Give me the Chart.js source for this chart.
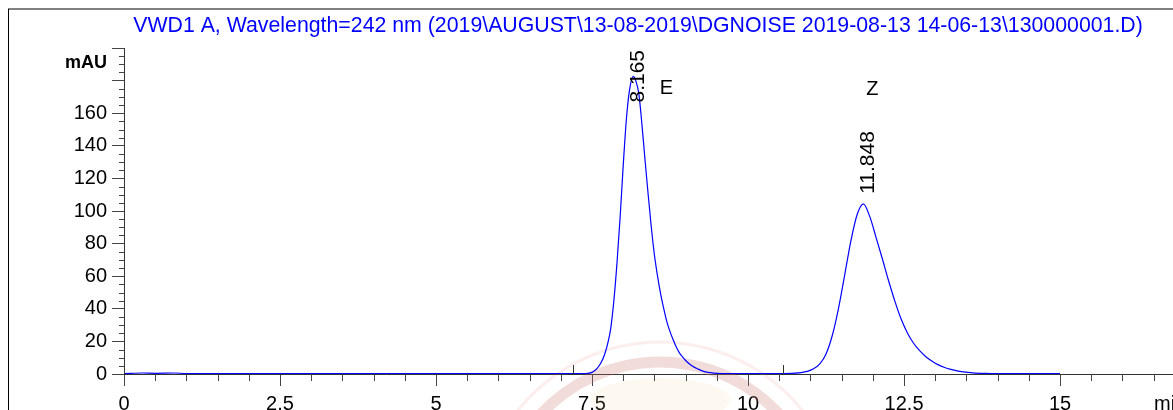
<!DOCTYPE html>
<html lang="en">
  <head>
    <meta charset="UTF-8" />
    <title>VWD1 A chromatogram</title>
    <style>
      body { margin: 0; background: #fff; }
      canvas { display: block; }
    </style>
  </head>

  <body>
    <script src="https://cdn.jsdelivr.net/npm/chart.js"></script>
    <canvas id="chrom" width="1173" height="410"></canvas>

    <script>
      // signal (min, mAU)
      const times = [0, 0.3, 0.5, 0.8, 1, 3, 5, 7, 7.2, 7.4, 7.5, 7.55, 7.6, 7.65, 7.7, 7.75, 7.8, 7.85, 7.9, 7.95,
        8.0, 8.05, 8.1, 8.16, 8.2, 8.25, 8.3, 8.35, 8.4, 8.45, 8.5, 8.55, 8.6, 8.65, 8.7, 8.75, 8.8, 8.85, 8.9,
        8.95, 9.0, 9.1, 9.2, 9.3, 9.4, 9.5, 9.7, 10.2, 10.56, 10.85, 10.95, 11.05, 11.15, 11.25, 11.35, 11.45,
        11.55, 11.65, 11.75, 11.848, 11.95, 12.05, 12.15, 12.25, 12.35, 12.45, 12.55, 12.65, 12.75, 12.85,
        12.95, 13.05, 13.15, 13.25, 13.35, 13.45, 13.6, 13.8, 14.0, 14.5, 15]
      const mAU = [0.3, 0.6, 0.4, 0.6, 0.3, 0.2, 0.2, 0.2, 0.2, 0.3, 1.0, 2.3, 4.3, 7.3, 11.8, 18.5, 28, 45, 68, 96,
        128, 156, 174, 182.6, 180, 172, 153, 131, 110, 90, 73, 60, 49, 40, 32, 26, 21, 16.5, 13,
        10.5, 8.3, 5, 3, 1.5, 0.8, 0.4, 0.2, 0.2, 0.2, 0.9, 1.6, 3.2, 6.2, 12.3, 23.6, 40.3,
        61, 82, 98, 104.4, 96.7, 84, 71, 57.5, 45, 34, 25.5, 19, 14.3, 10.6,
        7.8, 5.6, 4.0, 2.8, 1.9, 1.3, 0.7, 0.35, 0.2, 0.2, 0.2]

      const peakTimes = [8.165, 11.848]
      const peakHeights = [182.6, 104.4]
      const peakNames = ['E', 'Z']
      const baselineMarks = [0, 7.2, 10.56]

      const xMajor = [0, 2.5, 5, 7.5, 10, 12.5, 15]
      const yLabels = [0, 20, 40, 60, 80, 100, 120, 140, 160]

      const title = 'VWD1 A, Wavelength=242 nm (2019\\AUGUST\\13-08-2019\\DGNOISE 2019-08-13 14-06-13\\130000001.D)'
      const FONT = '"Liberation Sans", Arial, sans-serif'

      const extras = {
        id: 'extras',
        beforeDatasetsDraw(chart) {
          const c = chart.ctx
          // faint watermark ring
          c.save()
          c.strokeStyle = 'rgba(205, 120, 110, 0.26)'
          c.lineWidth = 11
          c.beginPath()
          c.arc(660, 524, 162, Math.PI * 1.05, Math.PI * 1.95)
          c.stroke()
          c.strokeStyle = 'rgba(230, 150, 140, 0.16)'
          c.lineWidth = 3
          c.beginPath()
          c.arc(660, 524, 182, Math.PI * 1.08, Math.PI * 1.92)
          c.stroke()
          c.fillStyle = 'rgba(240, 215, 150, 0.14)'
          c.beginPath()
          c.ellipse(660, 400, 70, 22, 0, 0, Math.PI * 2)
          c.fill()
          c.restore()
        },
        afterDraw(chart) {
          const c = chart.ctx
          const xs = chart.scales.x
          const ys = chart.scales.y
          const x0 = xs.left
          const y0 = ys.bottom
          c.save()

          // frame
          c.strokeStyle = '#808080'
          c.lineWidth = 2
          c.beginPath()
          c.moveTo(8, 9)
          c.lineTo(1173, 9)
          c.stroke()
          c.strokeStyle = '#000'
          c.lineWidth = 1
          c.beginPath()
          c.moveTo(8.5, 9)
          c.lineTo(8.5, 410)
          c.stroke()

          // minor ticks
          c.strokeStyle = '#444'
          c.beginPath()
          for (let v = 5; v < 200; v += 5) {
            if (v % 20 === 0) continue
            const py = Math.round(ys.getPixelForValue(v)) + 0.5
            c.moveTo(x0 - 5, py)
            c.lineTo(x0, py)
          }
          for (let t = 0.5; t <= xs.max; t += 0.5) {
            if (Math.abs(t / 2.5 - Math.round(t / 2.5)) < 1e-6) continue
            const px = Math.round(xs.getPixelForValue(t)) + 0.5
            c.moveTo(px, y0)
            c.lineTo(px, y0 + 7)
          }
          c.stroke()

          // baseline event marks
          c.strokeStyle = '#333'
          c.beginPath()
          baselineMarks.forEach((t) => {
            const px = Math.round(xs.getPixelForValue(t)) + 0.5
            c.moveTo(px, y0)
            c.lineTo(px, y0 - 9)
          })
          c.stroke()

          // title
          c.fillStyle = '#0000ff'
          c.font = '21.3px ' + FONT
          c.textAlign = 'center'
          c.textBaseline = 'middle'
          c.fillText(title, 638, 26)

          // axis unit labels
          c.fillStyle = '#000'
          c.font = 'bold 18px ' + FONT
          c.textAlign = 'right'
          c.fillText('mAU', 107, 63)
          c.font = '20px ' + FONT
          c.textAlign = 'left'
          c.fillText('min', 1154, 404)

          // retention times and names
          c.font = '21px ' + FONT
          peakTimes.forEach((t, i) => {
            const px = xs.getPixelForValue(t)
            const py = ys.getPixelForValue(peakHeights[i])
            const txt = t.toFixed(3)
            const len = c.measureText(txt).width
            const bottom = Math.max(py - 10, ys.top + 2 + len)
            c.save()
            c.translate(px + 5, bottom)
            c.rotate(-Math.PI / 2)
            c.textAlign = 'left'
            c.textBaseline = 'middle'
            c.fillText(txt, 0, 0)
            c.restore()
          })
          c.font = '20px ' + FONT
          c.textAlign = 'center'
          c.textBaseline = 'middle'
          c.fillText(peakNames[0], xs.getPixelForValue(peakTimes[0]) + 33, 88)
          c.fillText(peakNames[1], xs.getPixelForValue(peakTimes[1]) + 9, 89)

          c.restore()
        },
      }

      new Chart(document.getElementById('chrom'), {
        type: 'line',
        data: {
          datasets: [
            {
              data: times.map((t, i) => ({ x: t, y: mAU[i] })),
              borderColor: '#0000ff',
              borderWidth: 1.2,
              pointRadius: 0,
              cubicInterpolationMode: 'monotone',
              fill: false,
            },
          ],
        },
        options: {
          responsive: false,
          animation: false,
          devicePixelRatio: 1,
          layout: { padding: { top: 48, left: 0, right: 0, bottom: 0 } },
          plugins: { legend: { display: false }, tooltip: { enabled: false } },
          scales: {
            x: {
              type: 'linear',
              min: 0,
              max: 16.81,
              afterFit: (s) => { s.height = 36 },
              border: { color: '#333', width: 1 },
              grid: { drawOnChartArea: false, tickLength: 12, tickColor: '#444' },
              ticks: {
                stepSize: 2.5,
                includeBounds: false,
                autoSkip: false,
                maxRotation: 0,
                padding: 6,
                color: '#000',
                font: { family: FONT, size: 20 },
                callback: (v) => (xMajor.includes(v) ? String(v) : ''),
              },
            },
            y: {
              min: 0,
              max: 200,
              afterFit: (s) => { s.width = 124 },
              border: { color: '#333', width: 1 },
              grid: { drawOnChartArea: false, tickLength: 12, tickColor: '#444' },
              ticks: {
                stepSize: 20,
                includeBounds: false,
                autoSkip: false,
                padding: 5,
                color: '#000',
                font: { family: FONT, size: 20 },
                callback: (v) => (yLabels.includes(v) ? String(v) : ''),
              },
            },
          },
        },
        plugins: [extras],
      })
    </script>
  </body>
</html>
